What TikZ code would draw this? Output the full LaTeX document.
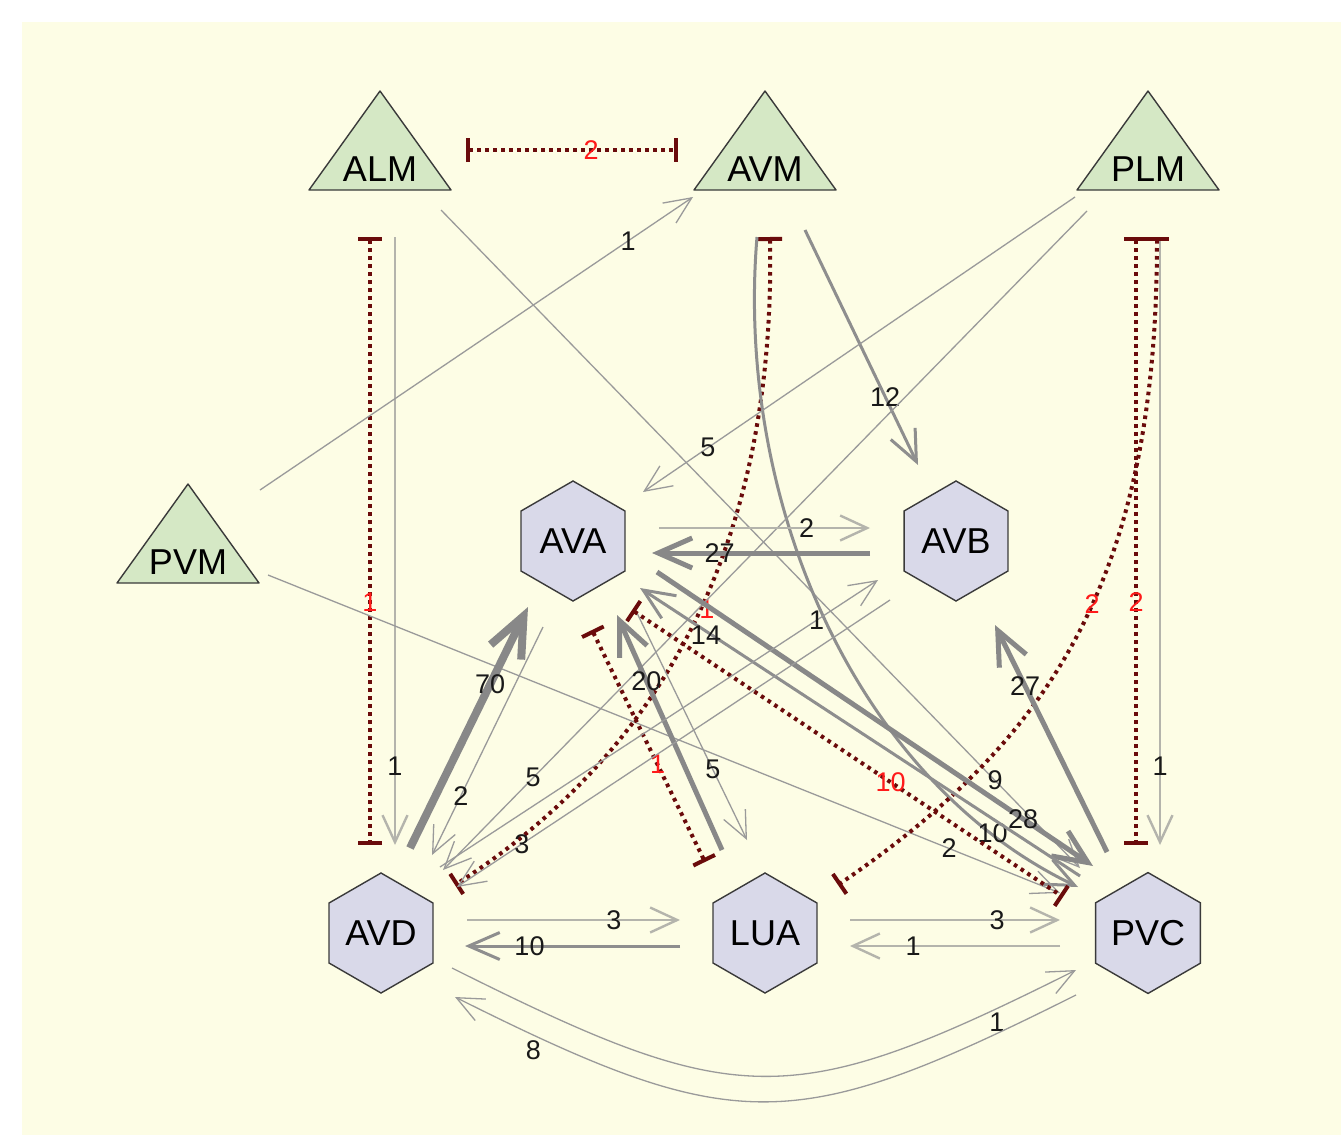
\documentclass[tikz,border=0pt]{standalone}
\usepackage{fontspec}
\setmainfont{Liberation Sans}
\usetikzlibrary{arrows.meta,calc,shapes.geometric,backgrounds}
\definecolor{bgyel}{HTML}{FDFDE5}
\definecolor{trigreen}{HTML}{D5E8C5}
\definecolor{hexlav}{HTML}{D9D9E9}
\definecolor{shapeline}{HTML}{3A3A3A}
\definecolor{lnlight}{HTML}{B4B4AC}
\definecolor{lnthin}{HTML}{9A9A9A}
\definecolor{lnmid}{HTML}{8E8E8E}
\definecolor{lnbold}{HTML}{888888}
\definecolor{inhred}{HTML}{6A0B0B}
\definecolor{lblred}{HTML}{FF1A1A}
\tikzset{
  hexnode/.style={regular polygon, regular polygon sides=6, shape border rotate=30,
    minimum size=120pt, inner sep=0pt, draw=shapeline, line width=1.4pt,
    fill=hexlav, font=\fontsize{36}{40}\selectfont},
  trinode/.style={inner sep=0pt, font=\fontsize{36}{40}\selectfont},
  trishape/.style={draw=shapeline, line width=1.4pt, fill=trigreen, line join=round},
  lbl/.style={inner sep=0pt, font=\fontsize{27}{30}\selectfont, text=black!90},
  rlbl/.style={lbl, text=lblred},
  slim/.style={draw=lnthin, line width=1.3pt, -{Straight Barb[length=27pt,width=24pt]}},
  faint/.style={draw=lnlight, line width=2.4pt, -{Straight Barb[length=27pt,width=25pt]}},
  mid/.style={draw=lnmid, line width=3pt, -{Straight Barb[length=31pt,width=27pt]}},
  broad/.style={draw=lnbold, line width=5pt, -{Straight Barb[length=34pt,width=30pt]}},
  heavy/.style={draw=lnbold, line width=8pt, -{Straight Barb[length=40pt,width=34pt]}},
  inh/.style={draw=inhred, line width=4pt, dash pattern=on 3.6pt off 4.4pt,
    {Bar[width=24pt]}-{Bar[width=24pt]}}
}
\begin{document}
\begin{tikzpicture}[x=1pt,y=-1pt]
\useasboundingbox (0,0) rectangle (1341,1135);

\node[trinode] (ALM) at (380,169) {ALM};
\node[trinode] (AVM) at (765,169) {AVM};
\node[trinode] (PLM) at (1148,169) {PLM};
\node[trinode] (PVM) at (188,562) {PVM};
\node[hexnode] (AVA) at (573,541) {AVA};
\node[hexnode] (AVB) at (956,541) {AVB};
\node[hexnode] (AVD) at (381,933) {AVD};
\node[hexnode] (LUA) at (765,933) {LUA};
\node[hexnode] (PVC) at (1148,933) {PVC};

\begin{scope}[on background layer]
  \fill[white] (0,0) rectangle (1341,1135);
  \fill[bgyel] (22,22) rectangle (1341,1135);
  \foreach \n in {ALM,AVM,PLM,PVM}
    \draw[trishape] ($(\n)+(-71,21)$) -- ($(\n)+(71,21)$) -- ($(\n)+(0,-78)$) -- cycle;
\end{scope}

% sensory neurons
\draw[inh] ($(ALM)+(86,-19)$) -- node[rlbl,pos=.59]{2} ($(AVM)+(-87,-19)$);
\draw[faint] ($(ALM)+(15,68)$) -- node[lbl,pos=.87]{1} ($(AVD)+(14,-88)$);
\draw[inh] ($(ALM)+(-10,68)$) -- node[rlbl,pos=.6]{1} ($(AVD)+(-11,-88)$);
\draw[slim] ($(ALM)+(61,41)$) -- node[lbl,pos=.867]{9} ($(PVC)+(-68,-65)$);
\draw[inh] ($(AVM)+(5,68)$) .. controls (775,520) and (680,740) .. node[rlbl,pos=.5,xshift=8pt,yshift=4pt]{1} ($(AVD)+(74,-48)$);
\draw[mid] ($(AVM)+(-8,68)$) .. controls (735,500) and (855,780) .. node[lbl,pos=.85,xshift=8pt,yshift=-5pt]{10} ($(PVC)+(-70,-46)$);
\draw[mid] ($(AVM)+(40,61)$) -- node[lbl,pos=.71]{12} ($(AVB)+(-38,-76)$);
\draw[slim] ($(PVM)+(72,-72)$) -- node[lbl,pos=.85]{1} ($(AVM)+(-72,28)$);
\draw[slim] ($(PVM)+(80,13)$) -- node[lbl,pos=.86]{2} ($(PVC)+(-88,-40)$);
\draw[slim] ($(PLM)+(-73,28)$) -- node[lbl,pos=.85]{5} ($(AVA)+(70,-49)$);
\draw[slim] ($(PLM)+(-61,42)$) -- node[lbl,pos=.86]{5} ($(AVD)+(62,-63)$);
\draw[inh] ($(PLM)+(-12,68)$) -- node[rlbl,pos=.6]{2} ($(PVC)+(-12,-88)$);
\draw[faint] ($(PLM)+(12,68)$) -- node[lbl,pos=.87]{1} ($(PVC)+(12,-88)$);
\draw[inh] ($(PLM)+(9,68)$) .. controls (1157,580) and (1050,740) .. node[rlbl,pos=.45]{2} ($(LUA)+(73,-48)$);

% interneurons
\draw[faint] ($(AVA)+(86,-13)$) -- node[lbl,pos=.7]{2} ($(AVB)+(-86,-13)$);
\draw[broad] ($(AVB)+(-86,12)$) -- node[lbl,pos=.69]{27} ($(AVA)+(79,12)$);
\draw[slim] ($(AVA)+(64,72)$) -- node[lbl,pos=.69]{5} ($(LUA)+(-18,-93)$);
\draw[slim] ($(AVA)+(-30,86)$) -- node[lbl,pos=.74]{2} ($(AVD)+(51,-78)$);
\draw[heavy] ($(AVD)+(29,-85)$) -- node[lbl,pos=.68]{70} ($(AVA)+(-45,66)$);
\draw[broad] ($(LUA)+(-43,-83)$) -- node[lbl,pos=.72]{20} ($(AVA)+(44,74)$);
\draw[inh] ($(AVA)+(19,89)$) -- node[rlbl,pos=.58]{1} ($(LUA)+(-60,-71)$);
\draw[inh] ($(AVA)+(59,69)$) -- node[rlbl,pos=.6]{10} ($(PVC)+(-85,-36)$);
\draw[broad] ($(AVA)+(84,31)$) -- node[lbl,pos=.84]{28} ($(PVC)+(-55,-67)$);
\draw[mid] ($(PVC)+(-68,-57)$) -- node[lbl,pos=.85,yshift=-4pt]{14} ($(AVA)+(67,47)$);
\draw[broad] ($(PVC)+(-41,-81)$) -- node[lbl,pos=.73]{27} ($(AVB)+(39,84)$);
\draw[slim] ($(AVD)+(59,-66)$) -- node[lbl,pos=.86]{1} ($(AVB)+(-78,39)$);
\draw[slim] ($(AVB)+(-66,59)$) -- node[lbl,pos=.85]{3} ($(AVD)+(76,-46)$);

% bottom row
\draw[faint] ($(AVD)+(86,-13)$) -- node[lbl,pos=.69]{3} ($(LUA)+(-85,-13)$);
\draw[mid] ($(LUA)+(-85,13)$) -- node[lbl,pos=.7]{10} ($(AVD)+(84,13)$);
\draw[faint] ($(LUA)+(85,-13)$) -- node[lbl,pos=.7]{3} ($(PVC)+(-88,-13)$);
\draw[faint] ($(PVC)+(-88,13)$) -- node[lbl,pos=.7]{1} ($(LUA)+(85,13)$);
\draw[slim] ($(AVD)+(71,35)$) .. controls (738,1111) and (790,1113) .. node[lbl,pos=.9,yshift=-14pt]{1} ($(PVC)+(-72,37)$);
\draw[slim] ($(PVC)+(-72,62)$) .. controls (794,1136) and (737,1138) .. node[lbl,pos=.9,yshift=-15pt]{8} ($(AVD)+(74,64)$);
\end{tikzpicture}
\end{document}
